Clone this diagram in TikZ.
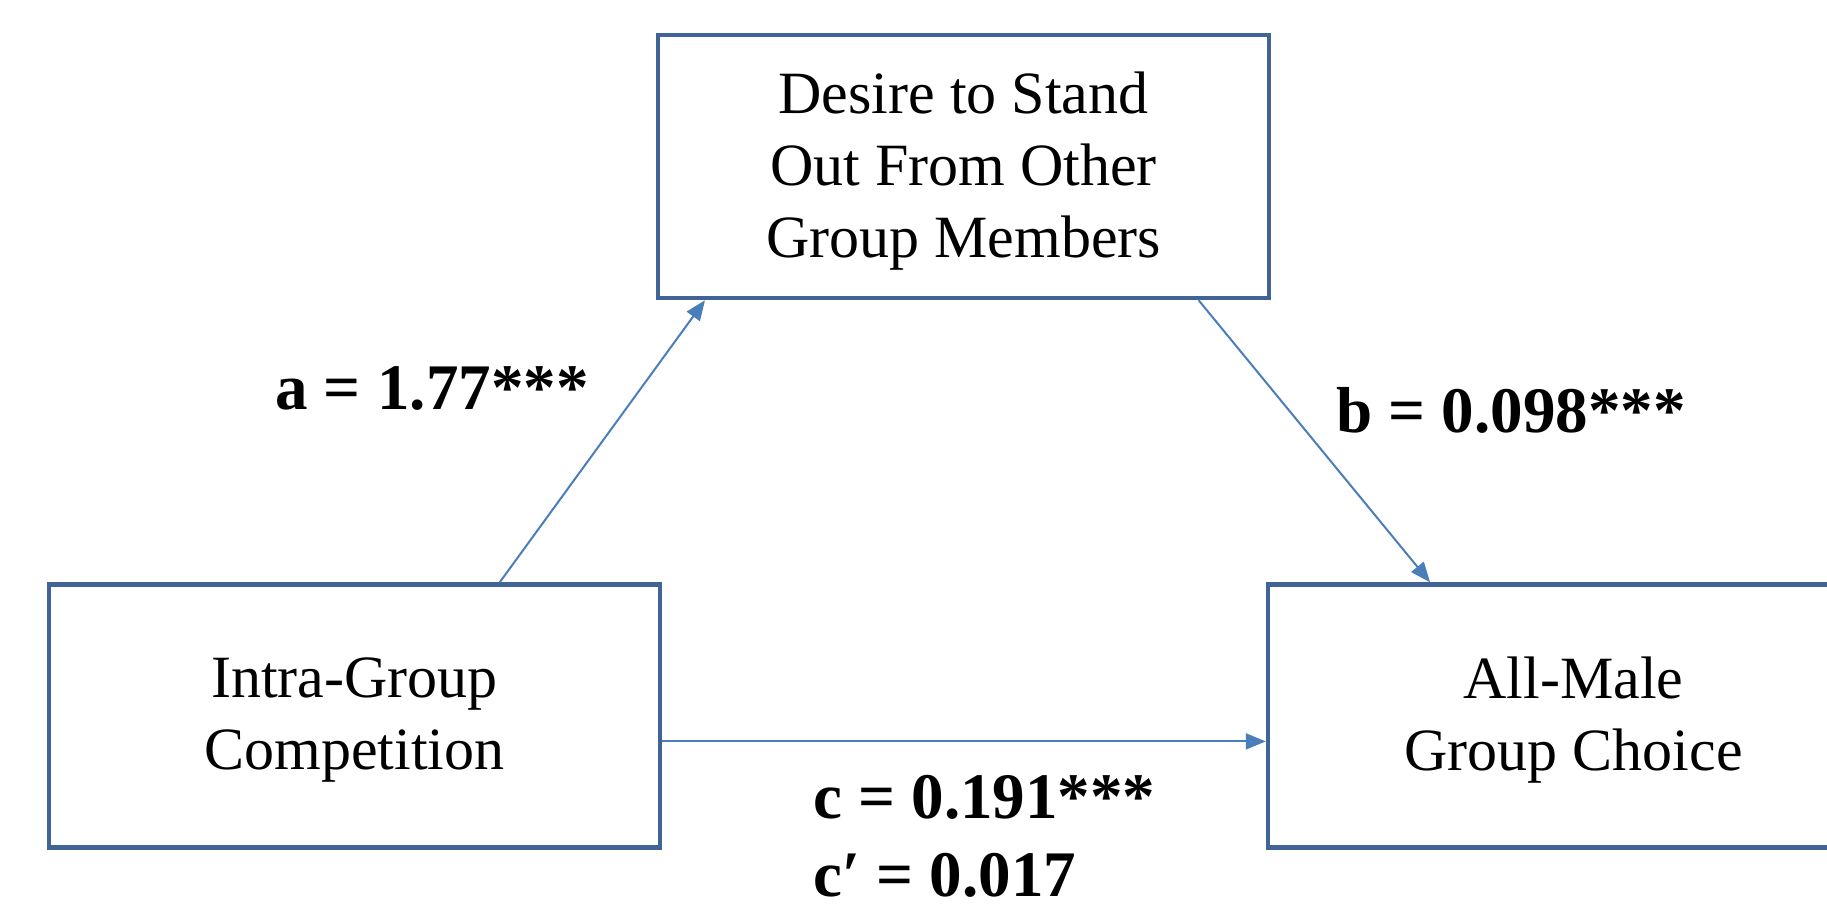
\documentclass[tikz,border=0pt]{standalone}
\usepackage{fontspec}
\setmainfont{Liberation Serif}
\usetikzlibrary{arrows.meta,calc}
\definecolor{boxblue}{RGB}{64,100,150}
\definecolor{arrowblue}{RGB}{74,126,187}
\tikzset{
  varbox/.style={draw=boxblue, line width=4.5pt, minimum width=611pt, minimum height=263pt,
    inner sep=0pt},
  boxtext/.style={align=center, inner sep=0pt, font=\fontsize{60}{72}\selectfont},
  path/.style={draw=arrowblue, line width=2pt, -{Triangle[length=20pt,width=16pt]}},
  coef/.style={anchor=base west, inner sep=0pt, font=\fontsize{65}{78}\selectfont\bfseries}
}
\begin{document}
\begin{tikzpicture}[x=1pt,y=-1pt]
\clip (0,0) rectangle (1827,906);
\fill[white] (0,0) rectangle (1827,906);
\node[varbox] (med) at (963.5,166.5) {};
\node[varbox] (iv) at (354.5,716) {};
\node[varbox] (dv) at (1573.5,716) {};
\node[boxtext] (medtext) at ([yshift=-4.5pt]med.center) {Desire to Stand\\Out From Other\\Group Members};
\node[boxtext] (ivtext) at ([yshift=-4pt]iv.center) {Intra-Group\\Competition};
\node[boxtext] (dvtext) at ([yshift=-4pt]dv.center) {All-Male\\Group Choice};
\draw[path] ($(iv.north west)!0.736!(iv.north east)$) -- ($(med.south west)!0.08!(med.south east)$);
\draw[path] ($(med.south west)!0.882!(med.south east)$) -- ($(dv.north west)!0.267!(dv.north east)$);
\draw[path] ($(iv.north east)!0.595!(iv.south east)$) -- ($(dv.north west)!0.595!(dv.south west)$);
\node[coef] (la) at (275,409) {a = 1.77***};
\node[coef] (lb) at (1336,432) {b = 0.098***};
\node[coef] (lc) at (813,818) {c = 0.191***};
\node[coef] (lcp) at (813,896) {c′ = 0.017};
\end{tikzpicture}
\end{document}
